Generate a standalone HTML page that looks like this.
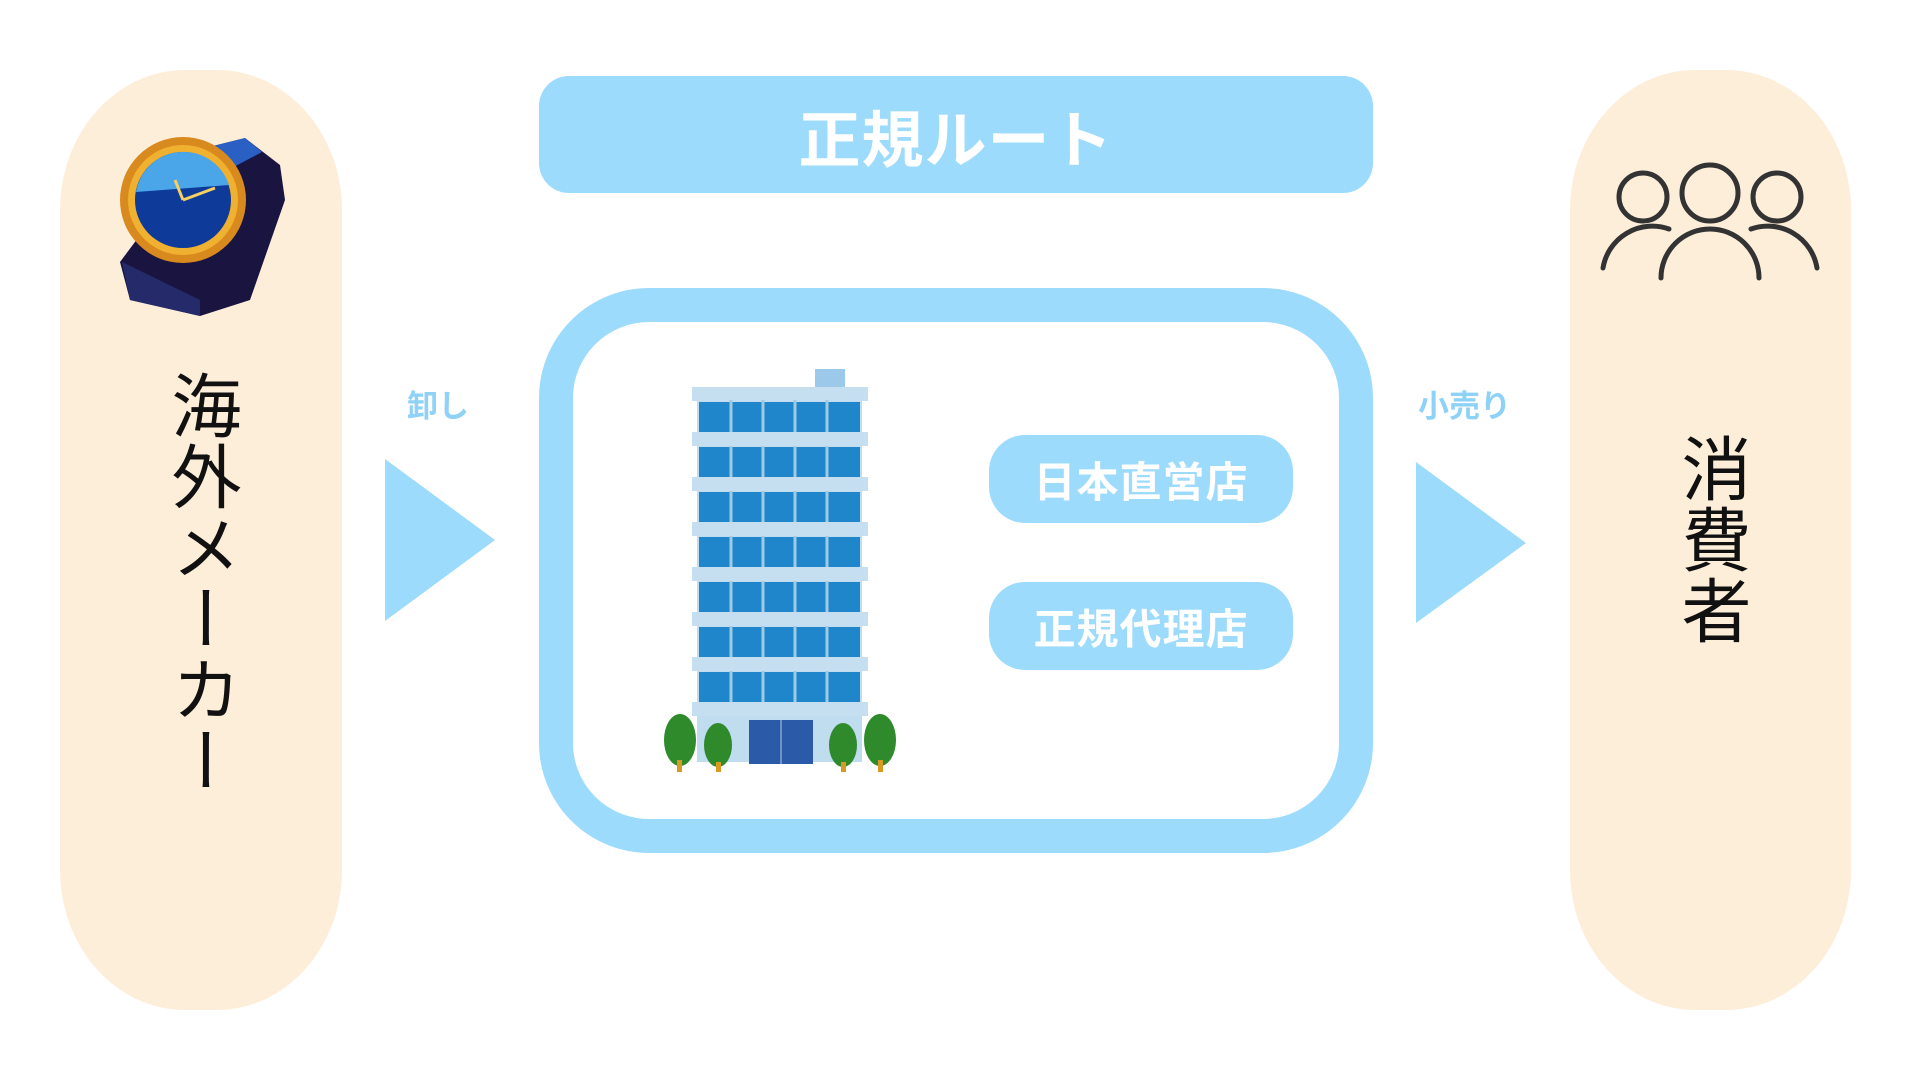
<!DOCTYPE html>
<html><head><meta charset="utf-8"><style>
body{margin:0;width:1920px;height:1080px;background:#fff;position:relative;overflow:hidden;font-family:"Liberation Sans","Noto Sans CJK JP",sans-serif}
.a{position:absolute}
.panel{background:#FDEEDA;border-radius:125px/140px}
.vt{writing-mode:vertical-rl;font-size:70px;color:#111;line-height:1;letter-spacing:1px}
.pill{background:#9DDBFC;border-radius:36px;color:#fff;font-weight:bold;font-size:42px;display:flex;align-items:center;justify-content:center;letter-spacing:1px}
.lbl{color:#8fd2f7;font-weight:bold;font-size:31px}
</style></head><body>
<div class="a panel" style="left:60px;top:70px;width:282px;height:940px"></div>
<div class="a panel" style="left:1570px;top:70px;width:281px;height:940px"></div>
<div class="a pill" style="left:539px;top:76px;width:834px;height:117px;border-radius:30px;font-size:62px">正規ルート</div>
<div class="a" style="left:539px;top:288px;width:766px;height:497px;border:34px solid #9DDBFC;border-radius:110px"></div>
<div class="a pill" style="left:989px;top:435px;width:304px;height:88px">日本直営店</div>
<div class="a pill" style="left:989px;top:582px;width:304px;height:88px">正規代理店</div>
<div class="a lbl" style="left:407px;top:381px">卸し</div>
<div class="a lbl" style="left:1418px;top:381px">小売り</div>
<svg class="a" style="left:0;top:0" width="1920" height="1080">
<polygon points="385,459 495,540 385,621" fill="#9DDBFC"/>
<polygon points="1416,462 1526,543 1416,623" fill="#9DDBFC"/>
<g fill="none" stroke="#333" stroke-width="5" stroke-linecap="round">
<circle cx="1643" cy="197" r="24"/><circle cx="1710" cy="193" r="28"/><circle cx="1777" cy="197" r="24"/>
<path d="M1603,268 A50,50 0 0 1 1669,229"/><path d="M1751,229 A50,50 0 0 1 1817,268"/>
<path d="M1661,278 A49,49 0 0 1 1759,278"/>
</g>
<g>
<path d="M205,148 L245,138 L280,165 L285,200 L250,300 L200,316 L130,300 L120,262 Z" fill="#1a1440"/>
<path d="M205,148 L245,138 L262,152 L228,170 Z" fill="#2a5fc4"/>
<path d="M122,262 L200,300 L200,316 L130,300 Z" fill="#252a6a"/>
<circle cx="183" cy="200" r="63" fill="#d88a1f"/>
<circle cx="183" cy="200" r="55" fill="#f0b030"/>
<circle cx="183" cy="200" r="48" fill="#0e3a9a"/>
<path d="M136,192 A48,48 0 0 1 229,185 Z" fill="#4aa6e8"/>
<line x1="183" y1="200" x2="215" y2="188" stroke="#f6d060" stroke-width="3"/>
<line x1="183" y1="200" x2="175" y2="180" stroke="#f6d060" stroke-width="3"/>
</g>
<g>
<rect x="815" y="369" width="30" height="18" fill="#9cc8ea"/>
<rect x="697" y="390" width="165" height="372" fill="#c0dcef"/>
<rect x="692" y="387" width="176" height="14" fill="#c6dff0"/>
<g fill="#1f86cc">
<rect x="699" y="402" width="161" height="30"/><rect x="699" y="447" width="161" height="30"/>
<rect x="699" y="492" width="161" height="30"/><rect x="699" y="537" width="161" height="30"/>
<rect x="699" y="582" width="161" height="30"/><rect x="699" y="627" width="161" height="30"/>
<rect x="699" y="672" width="161" height="30"/>
</g>
<g stroke="#9fcbe8" stroke-width="3"><line x1="731" y1="400" x2="731" y2="705"/><line x1="763" y1="400" x2="763" y2="705"/><line x1="795" y1="400" x2="795" y2="705"/><line x1="827" y1="400" x2="827" y2="705"/></g>
<g fill="#c6dff0">
<rect x="692" y="432" width="176" height="14"/><rect x="692" y="477" width="176" height="14"/>
<rect x="692" y="522" width="176" height="14"/><rect x="692" y="567" width="176" height="14"/>
<rect x="692" y="612" width="176" height="14"/><rect x="692" y="657" width="176" height="14"/>
<rect x="692" y="702" width="176" height="14"/>
</g>
<rect x="749" y="720" width="64" height="44" fill="#2a5aa8"/>
<line x1="781" y1="720" x2="781" y2="764" stroke="#6f93c8" stroke-width="2"/>
<g fill="#2f8a2c"><ellipse cx="680" cy="740" rx="16" ry="26"/><ellipse cx="718" cy="745" rx="14" ry="22"/><ellipse cx="843" cy="745" rx="14" ry="22"/><ellipse cx="880" cy="740" rx="16" ry="26"/></g>
<g fill="#d89a20"><rect x="677" y="760" width="5" height="12"/><rect x="716" y="762" width="5" height="10"/><rect x="841" y="762" width="5" height="10"/><rect x="878" y="760" width="5" height="12"/></g>
</g>
</svg>
<div class="a vt" style="left:166px;top:370px">海外メーカー</div>
<div class="a vt" style="left:1676px;top:433px">消費者</div>
</body></html>
